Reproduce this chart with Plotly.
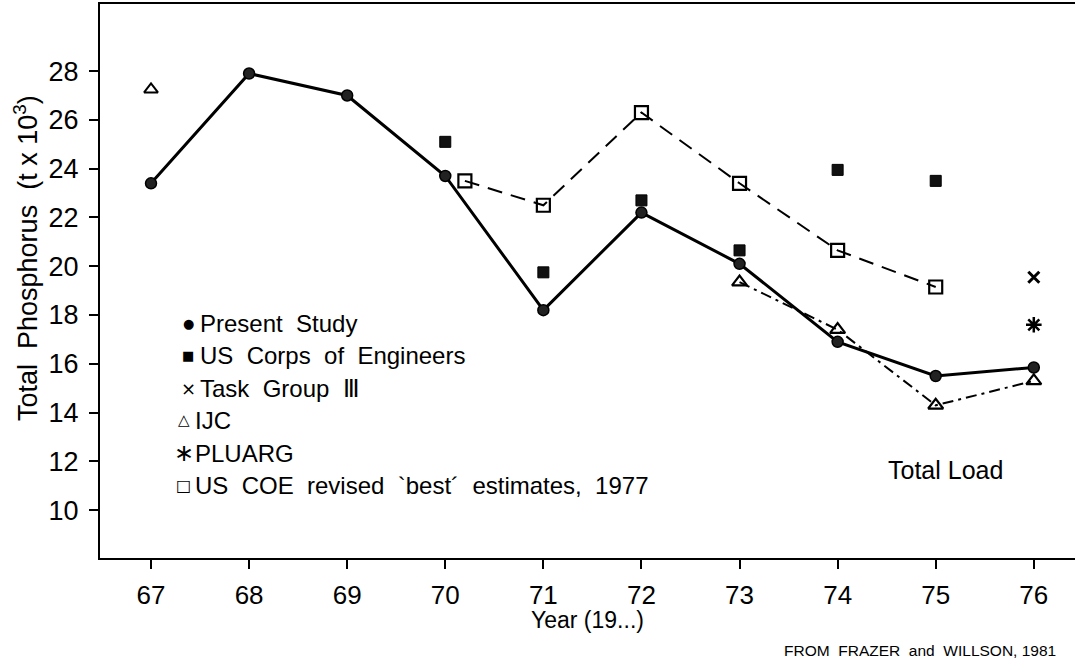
import plotly.graph_objects as go

# Total phosphorus load estimates (thousand tonnes) by year (19..)
present_years = [67, 68, 69, 70, 71, 72, 73, 74, 75, 76]
present_vals = [23.4, 27.9, 27.0, 23.7, 18.2, 22.2, 20.1, 16.9, 15.5, 15.85]

corps_years = [70, 71, 72, 73, 74, 75]
corps_vals = [25.1, 19.75, 22.7, 20.65, 23.95, 23.5]

coe_years = [70.2, 71, 72, 73, 74, 75]
coe_vals = [23.5, 22.5, 26.3, 23.4, 20.65, 19.15]

ijc_single_year = [67]
ijc_single_val = [27.25]
ijc_years = [73, 74, 75, 76]
ijc_vals = [19.35, 17.4, 14.3, 15.3]

task_years = [76]
task_vals = [19.55]

pluarg_years = [76]
pluarg_vals = [17.6]

x_ticks = [67, 68, 69, 70, 71, 72, 73, 74, 75, 76]
y_ticks = [10, 12, 14, 16, 18, 20, 22, 24, 26, 28]

FONT = "Liberation Sans, Arial, sans-serif"
INK = "black"

fig = go.Figure()

fig.add_trace(go.Scatter(
    x=coe_years, y=coe_vals, mode="lines+markers",
    line=dict(color=INK, width=2, dash="15px,9px"),
    marker=dict(symbol="square-open", size=13, color=INK, line=dict(width=2.2, color=INK)),
    name="US COE revised 'best' estimates, 1977",
))
fig.add_trace(go.Scatter(
    x=ijc_years, y=ijc_vals, mode="lines+markers",
    line=dict(color=INK, width=2, dash="11px,5px,3px,5px"),
    marker=dict(symbol="triangle-up-open", size=13, color=INK, line=dict(width=2.2, color=INK)),
    name="IJC",
))
fig.add_trace(go.Scatter(
    x=ijc_single_year, y=ijc_single_val, mode="markers",
    marker=dict(symbol="triangle-up-open", size=12, color=INK, line=dict(width=2, color=INK)),
    name="IJC 1967",
))
fig.add_trace(go.Scatter(
    x=present_years, y=present_vals, mode="lines+markers",
    line=dict(color=INK, width=3),
    marker=dict(symbol="circle", size=11, color="#222", line=dict(width=1.5, color=INK)),
    name="Present Study",
))
fig.add_trace(go.Scatter(
    x=corps_years, y=corps_vals, mode="markers",
    marker=dict(symbol="square", size=11, color="#111", line=dict(width=1, color=INK)),
    name="US Corps of Engineers",
))
fig.add_trace(go.Scatter(
    x=task_years, y=task_vals, mode="markers",
    marker=dict(symbol="x-thin-open", size=11, color=INK, line=dict(width=3, color=INK)),
    name="Task Group III",
))
fig.add_trace(go.Scatter(
    x=pluarg_years, y=pluarg_vals, mode="markers",
    marker=dict(symbol="asterisk-open", size=13, color=INK, line=dict(width=2.5, color=INK)),
    name="PLUARG",
))

# plot area in pixels: left 100, right 1075, top 4, bottom 558
L, R, T, B = 100, 1075, 4, 558


def px(xp):
    return (xp - L) / (R - L)


def py(yp):
    return (B - yp) / (B - T)


# key drawn as text inside the plot area
key_rows = [
    ("●", 188, 13, "Present  Study", 198, 323),
    ("■", 188, 13, "US  Corps  of  Engineers", 198, 356),
    ("×", 188, 18, "Task  Group  Ⅲ", 198, 388),
    ("△", 184, 15, "IJC", 193, 420),
    ("∗", 184, 24, "PLUARG", 193, 453),
    ("□", 183, 16, "US  COE  revised  `best´  estimates,  1977", 193, 485),
]

annotations = []
for glyph, gx, gsize, label, tx, ty in key_rows:
    annotations.append(dict(
        x=px(gx), y=py(ty), xref="paper", yref="paper", text=glyph,
        showarrow=False, xanchor="center", yanchor="middle",
        font=dict(family="DejaVu Sans", size=gsize, color=INK),
    ))
    annotations.append(dict(
        x=px(tx), y=py(ty), xref="paper", yref="paper", text=label,
        showarrow=False, xanchor="left", yanchor="middle",
        font=dict(family=FONT, size=24, color=INK),
    ))

annotations.append(dict(
    x=px(945), y=py(470), xref="paper", yref="paper", text="Total Load",
    showarrow=False, xanchor="center", yanchor="middle",
    font=dict(family=FONT, size=25, color=INK),
))
annotations.append(dict(
    x=px(1058), y=py(650), xref="paper", yref="paper",
    text="FROM  FRAZER  and  WILLSON, 1981",
    showarrow=False, xanchor="right", yanchor="middle",
    font=dict(family=FONT, size=15.5, color=INK),
))
# axis titles
annotations.append(dict(
    x=px(26), y=py(258), xref="paper", yref="paper",
    text="Total  Phosphorus  (t x 10<sup>3</sup>)", textangle=-90,
    showarrow=False, xanchor="center", yanchor="middle",
    font=dict(family=FONT, size=27, color=INK),
))
annotations.append(dict(
    x=px(587), y=py(620), xref="paper", yref="paper",
    text="Year (19...)",
    showarrow=False, xanchor="center", yanchor="middle",
    font=dict(family=FONT, size=23, color=INK),
))

fig.update_layout(
    width=1075, height=665,
    margin=dict(l=L, r=1075 - R, t=T, b=665 - B, autoexpand=False),
    paper_bgcolor="white", plot_bgcolor="white",
    showlegend=False,
    font=dict(family=FONT, color=INK),
    annotations=annotations,
    xaxis=dict(
        range=[66.48, 76.42], tickmode="array", tickvals=x_ticks,
        ticktext=[str(v) for v in x_ticks],
        ticks="outside", ticklen=9, tickwidth=2, tickcolor=INK,
        showline=True, linecolor=INK, linewidth=2, mirror=True,
        showgrid=False, zeroline=False,
        tickfont=dict(family=FONT, size=26, color=INK),
        ticklabelstandoff=4,
    ),
    yaxis=dict(
        range=[8.04, 30.75], tickmode="array", tickvals=y_ticks,
        ticktext=[str(v) for v in y_ticks],
        ticks="outside", ticklen=9, tickwidth=2, tickcolor=INK,
        showline=True, linecolor=INK, linewidth=2, mirror=False,
        showgrid=False, zeroline=False,
        tickfont=dict(family=FONT, size=27, color=INK),
        ticklabelstandoff=5,
    ),
)

fig.write_html("out.html")
